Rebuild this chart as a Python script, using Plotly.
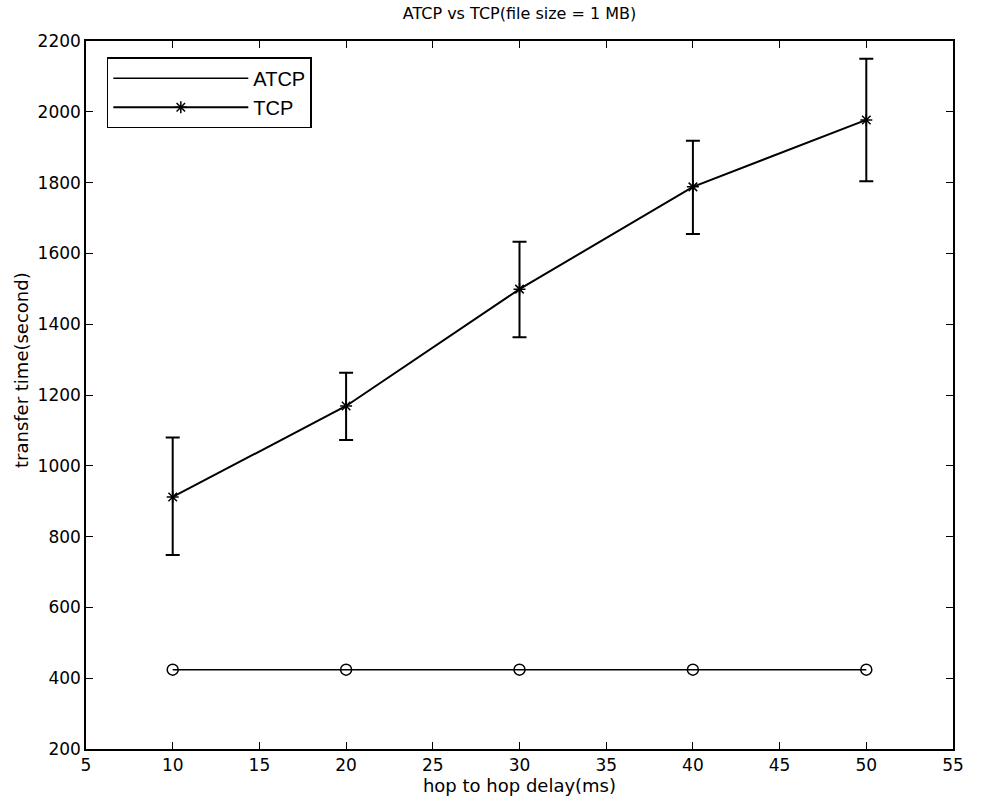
import plotly.graph_objects as go

delay = [10, 20, 30, 40, 50]
atcp = [424, 424, 424, 424, 424]
tcp = [912, 1169, 1499, 1788, 1977]
tcp_upper = [1080, 1263, 1633, 1918, 2150]
tcp_lower = [748, 1073, 1363, 1655, 1804]

err_plus = [u - m for u, m in zip(tcp_upper, tcp)]
err_minus = [m - l for m, l in zip(tcp, tcp_lower)]

xticks = [5, 10, 15, 20, 25, 30, 35, 40, 45, 50, 55]
yticks = [200, 400, 600, 800, 1000, 1200, 1400, 1600, 1800, 2000, 2200]

FONT = "DejaVu Sans, Liberation Sans, Arial, sans-serif"
LFONT = "Liberation Sans, Arial, Helvetica, sans-serif"

fig = go.Figure()
fig.add_trace(go.Scatter(
    x=delay, y=atcp, mode="lines", name="ATCP",
    line=dict(color="black", width=1.5),
))
fig.add_trace(go.Scatter(
    x=delay, y=atcp, mode="markers", showlegend=False,
    marker=dict(symbol="circle-open", size=11, color="black", line=dict(width=1.5)),
))
fig.add_trace(go.Scatter(
    x=delay, y=tcp, mode="lines+markers", name="TCP",
    line=dict(color="black", width=2),
    marker=dict(symbol="asterisk-open", size=10, color="black", line=dict(width=1.5, color="black")),
    error_y=dict(type="data", symmetric=False, array=err_plus, arrayminus=err_minus,
                 color="black", thickness=2, width=7),
))

axis_common = dict(
    showgrid=False, zeroline=False, showline=True, linecolor="black", linewidth=1.5,
    mirror="ticks", ticks="inside", ticklen=7, tickwidth=1.2, tickcolor="black",
    tickfont=dict(family=FONT, size=17, color="black"),
)

fig.update_layout(
    width=1000, height=804,
    paper_bgcolor="white", plot_bgcolor="white",
    margin=dict(l=86, r=47, t=41, b=55),
    title=dict(text="ATCP vs TCP(file size = 1 MB)", x=(86 + 953) / 2 / 1000, xref="container",
               xanchor="center", y=1 - 13 / 804, yref="container", yanchor="middle",
               font=dict(family=FONT, size=16, color="black")),
    xaxis=dict(range=[5, 55], tickvals=xticks, ticktext=[str(v) for v in xticks],
               title=dict(text="hop to hop delay(ms)", font=dict(family=FONT, size=18, color="black"), standoff=2),
               **axis_common),
    yaxis=dict(range=[200, 2200], tickvals=yticks, ticktext=[str(v) for v in yticks],
               **axis_common),
    legend=dict(x=0.024, y=0.977, xanchor="left", yanchor="top",
                bgcolor="white", bordercolor="black", borderwidth=1.5,
                font=dict(family=LFONT, size=20, color="black"),
                itemwidth=135, tracegroupgap=0),
    showlegend=True,
    annotations=[dict(
        text="transfer time(second)", textangle=-90, showarrow=False,
        xref="paper", yref="paper", x=0, y=(749 - 370) / 708,
        xanchor="center", yanchor="middle", xshift=-65,
        font=dict(family=FONT, size=18, color="black"),
    )],
)

fig.write_html("out.html", post_script="document.body.style.margin='0px';",
               config={"displayModeBar": False})
